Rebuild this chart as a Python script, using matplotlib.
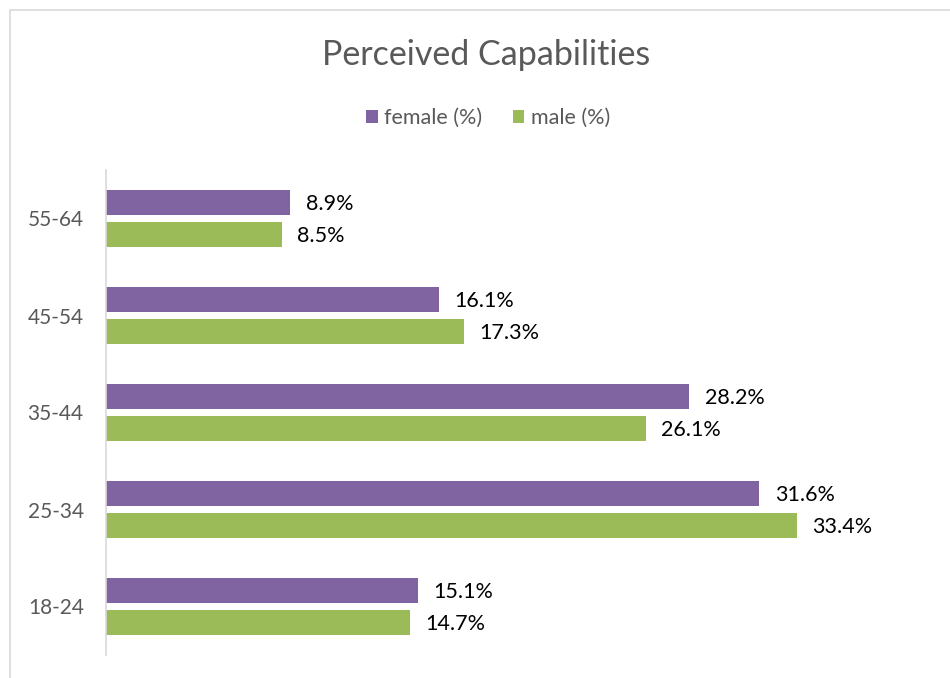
import matplotlib.pyplot as plt
import numpy as np
from matplotlib.patches import Rectangle

plt.rcParams['font.family'] = ['Lato', 'DejaVu Sans']

# data
age_groups = ['18-24', '25-34', '35-44', '45-54', '55-64']
female = [15.1, 31.6, 28.2, 16.1, 8.9]
male = [14.7, 33.4, 26.1, 17.3, 8.5]

purple = '#8064A2'
green = '#9BBB59'
grey = '#595959'

fig = plt.figure(figsize=(9.5, 6.78), dpi=100)
W, H = 950, 678

# chart border (light grey frame)
fig.patches.append(Rectangle((10 / W, -0.05), 1.0, 1 - 10 / H + 0.05,
                             transform=fig.transFigure, fill=False,
                             edgecolor='#D9D9D9', linewidth=1.2))

ax = fig.add_axes([106 / W, 1 - 655 / H, 827 / W, 485 / H])

y = np.arange(len(age_groups))
h = 0.26
off = 0.165
b1 = ax.barh(y + off, female, height=h, color=purple, label='female (%)')
b2 = ax.barh(y - off, male, height=h, color=green, label='male (%)')

for bars, vals in ((b1, female), (b2, male)):
    for bar, v in zip(bars, vals):
        ax.text(bar.get_width() + 0.75, bar.get_y() + bar.get_height() / 2 - 0.02,
                f'{v:.1f}%', va='center', ha='left', fontsize=15.5, color='black')

ax.set_xlim(0, 40)
ax.set_ylim(-0.5, 4.5)
ax.set_yticks(y)
ax.set_yticklabels(age_groups, fontsize=15, color=grey)
ax.tick_params(axis='y', length=0, pad=16)
ax.set_xticks([])
for s in ('top', 'right', 'bottom'):
    ax.spines[s].set_visible(False)
ax.spines['left'].set_color('#D9D9D9')
ax.spines['left'].set_linewidth(1.2)

fig.text(486 / W, 1 - 55 / H, 'Perceived Capabilities', ha='center', va='center',
         fontsize=24.5, color=grey)

fig.legend(handles=[b1, b2], loc='center', bbox_to_anchor=(488 / W, 1 - 118 / H),
           ncol=2, frameon=False, fontsize=15.5, labelcolor=grey,
           handlelength=0.55, handleheight=0.55, handletextpad=0.3, columnspacing=1.4)

fig.savefig('out.png', dpi=100)
